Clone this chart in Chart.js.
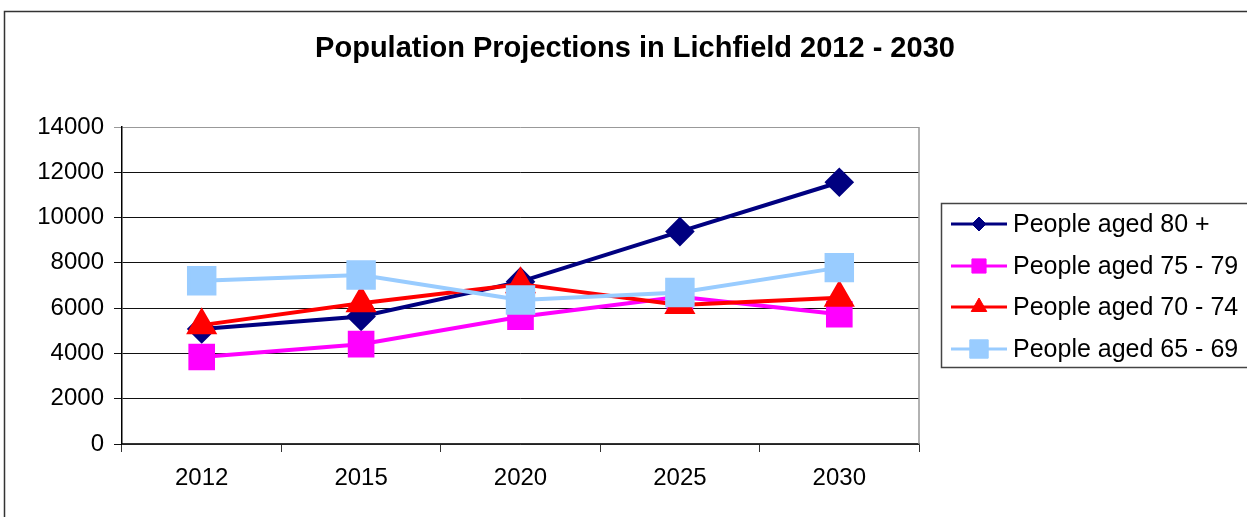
<!DOCTYPE html>
<html>
<head>
<meta charset="utf-8">
<script src="https://cdn.jsdelivr.net/npm/chart.js@4/dist/chart.umd.min.js"></script>
<style>
  body { margin: 0; background: #fff; }
  canvas { display: block; }
</style>
</head>
<body>
<canvas id="grafica" width="1247" height="517"></canvas>
<script>
// data
var years = ['2012', '2015', '2020', '2025', '2030'];
var aged80 = [5080, 5630, 7170, 9380, 11560];
var aged75 = [3840, 4410, 5620, 6500, 5730];
var aged70 = [5250, 6220, 7060, 6140, 6460];
var aged65 = [7210, 7460, 6360, 6690, 7790];
var seriesNames = ['People aged 80 +', 'People aged 75 - 79', 'People aged 70 - 74', 'People aged 65 - 69'];
var yTicks = [0, 2000, 4000, 6000, 8000, 10000, 12000, 14000];
var titulo = 'Population Projections in Lichfield 2012 - 2030';

var FONT = 'Liberation Sans, Arial, sans-serif';

// outer frame, title and plot border
var frame = {
  id: 'frame',
  beforeDraw: function (chart) {
    var ctx = chart.ctx;
    ctx.save();
    ctx.strokeStyle = '#333';
    ctx.lineWidth = 1.5;
    ctx.strokeRect(4.5, 11.5, 1400, 700);
    ctx.fillStyle = '#000';
    ctx.font = 'bold 29px ' + FONT;
    ctx.textAlign = 'center';
    ctx.textBaseline = 'middle';
    ctx.fillText(titulo, 635, 49);
    ctx.restore();
  },
  beforeDatasetsDraw: function (chart) {
    var a = chart.chartArea, ctx = chart.ctx;
    ctx.save();
    ctx.strokeStyle = '#999';
    ctx.lineWidth = 1.5;
    ctx.beginPath();
    ctx.moveTo(a.right, a.top);
    ctx.lineTo(a.right, a.bottom);
    ctx.stroke();
    ctx.restore();
  }
};

// legend box on the right
var boxLegend = {
  id: 'boxLegend',
  afterDraw: function (chart) {
    var ctx = chart.ctx;
    ctx.save();
    ctx.strokeStyle = '#444';
    ctx.lineWidth = 1.5;
    ctx.strokeRect(941.5, 203.5, 400, 164);
    var rows = [224, 266, 307, 349];
    chart.data.datasets.forEach(function (ds, i) {
      var y = rows[i];
      ctx.strokeStyle = ds.borderColor;
      ctx.lineWidth = 3;
      ctx.beginPath();
      ctx.moveTo(951, y);
      ctx.lineTo(1007, y);
      ctx.stroke();
      ctx.fillStyle = ds.backgroundColor;
      ctx.strokeStyle = ds.backgroundColor;
      ctx.lineWidth = 1;
      Chart.helpers.drawPoint(ctx, { pointStyle: ds.pointStyle, radius: ds.legendRadius, rotation: 0, borderWidth: 1 }, 979, y);
      ctx.fillStyle = '#000';
      ctx.font = '25px ' + FONT;
      ctx.textBaseline = 'middle';
      ctx.textAlign = 'left';
      ctx.fillText(ds.label, 1013, y + 1);
    });
    ctx.restore();
  }
};

var ctx = document.getElementById('grafica');
var myChart = new Chart(ctx, {
  type: 'line',
  data: {
    labels: years,
    datasets: [{
      label: seriesNames[0],
      data: aged80,
      borderColor: '#000080',
      backgroundColor: '#000080',
      borderWidth: 4,
      pointStyle: 'rectRot',
      pointRadius: 12,
      legendRadius: 7,
      order: 4
    }, {
      label: seriesNames[1],
      data: aged75,
      borderColor: '#ff00ff',
      backgroundColor: '#ff00ff',
      borderWidth: 4,
      pointStyle: 'rect',
      pointRadius: 16,
      legendRadius: 10,
      order: 3
    }, {
      label: seriesNames[2],
      data: aged70,
      borderColor: '#ff0000',
      backgroundColor: '#ff0000',
      borderWidth: 4,
      pointStyle: 'triangle',
      pointRadius: 14,
      legendRadius: 9,
      order: 2
    }, {
      label: seriesNames[3],
      data: aged65,
      borderColor: '#99ccff',
      backgroundColor: '#99ccff',
      borderWidth: 4,
      pointStyle: 'rect',
      pointRadius: 18,
      legendRadius: 13,
      order: 1
    }]
  },
  options: {
    responsive: false,
    animation: false,
    layout: { padding: { left: 0, right: 328, top: 127, bottom: 0 } },
    elements: { line: { tension: 0 }, point: { borderWidth: 1, hoverRadius: 12 } },
    plugins: {
      legend: { display: false },
      tooltip: { enabled: false },
      title: { display: false }
    },
    scales: {
      x: {
        offset: true,
        grid: { offset: true, drawOnChartArea: false, drawTicks: true, tickLength: 8, color: '#333' },
        border: { color: '#333', width: 1.5 },
        ticks: { color: '#000', font: { family: FONT, size: 24 }, padding: 12 },
        afterFit: function (scale) { scale.height = 73; }
      },
      y: {
        min: 0,
        max: 14000,
        afterBuildTicks: function (scale) {
          scale.ticks = yTicks.map(function (v) { return { value: v }; });
        },
        grid: {
          color: function (c) { return c.tick && c.tick.value === 14000 ? '#999' : '#111'; },
          tickLength: 8
        },
        border: { color: '#000', width: 1.5 },
        ticks: {
          color: '#000',
          font: { family: FONT, size: 24 },
          padding: 10,
          callback: function (v) { return String(v); }
        },
        afterFit: function (scale) { scale.width = 122; }
      }
    }
  },
  plugins: [frame, boxLegend]
});
</script>
</body>
</html>
